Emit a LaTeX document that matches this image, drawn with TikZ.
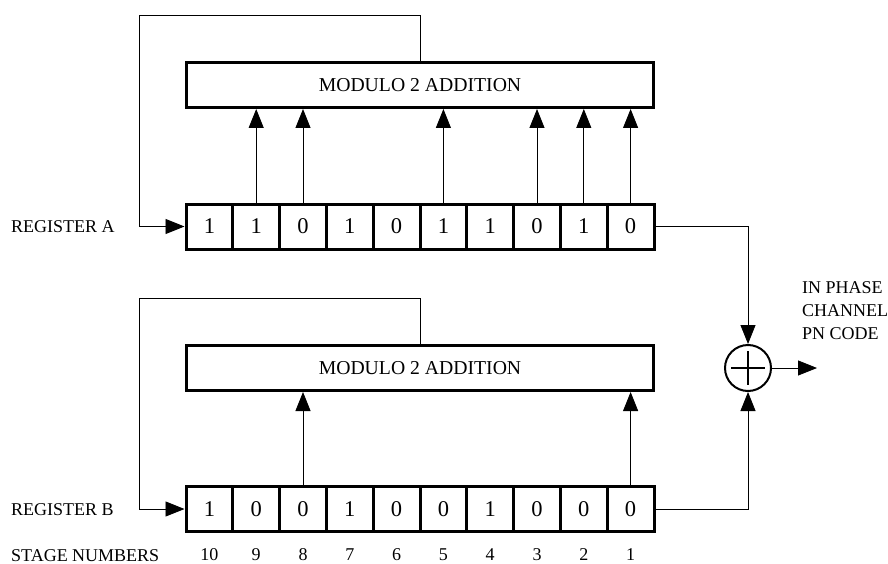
\documentclass[tikz,border=0pt]{standalone}
\usepackage{fontspec}
\setmainfont{Liberation Serif}
\usetikzlibrary{arrows.meta}
\tikzset{
    wire/.style={line width=0.9pt,-{Triangle[length=19pt,width=15pt]}},
    addbox/.style={draw,line width=3pt,minimum width=467pt,minimum height=45pt,inner sep=0pt,font=\fontsize{19.7}{22}\selectfont},
    cellbox/.style={draw,line width=3pt,minimum width=46.8pt,minimum height=45pt,inner sep=0pt,font=\fontsize{22.5}{24}\selectfont},
    lbl/.style={anchor=west,inner sep=0pt,font=\fontsize{18}{20}\selectfont},
    stagenum/.style={inner sep=0pt,font=\fontsize{18}{20}\selectfont}
}
\begin{document}
\begin{tikzpicture}[x=1pt,y=-1pt]
    \useasboundingbox (0,0) rectangle (888,564);
    % Adders
    \node[addbox] (adda) at (420,85) {MODULO 2 ADDITION};
    \node[addbox] (addb) at (420,368) {MODULO 2 ADDITION};
    % Register A
    \foreach \s/\b in {10/1,9/1,8/0,7/1,6/0,5/1,4/1,3/0,2/1,1/0} {
        \node[cellbox] (rega\s) at ({186+46.8*(10.5-\s)},226.5) {\b};
    }
    % Register B, stage numbers below it
    \foreach \s/\b in {10/1,9/0,8/0,7/1,6/0,5/0,4/1,3/0,2/0,1/0} {
        \node[cellbox] (regb\s) at ({186+46.8*(10.5-\s)},509) {\b};
        \node[stagenum] (num\s) at ({186+46.8*(10.5-\s)},555) {\s};
    }
    % Labels
    \node[lbl] (laba) at (11,227) {REGISTER A};
    \node[lbl] (labb) at (11,510) {REGISTER B};
    \node[lbl] (labs) at (11,556) {STAGE NUMBERS};
    \node[lbl,align=left,font=\fontsize{18}{23}\selectfont] (labout) at (802,311) {IN PHASE\\CHANNEL\\PN CODE};
    % Summing junction
    \node[draw,circle,line width=2pt,minimum size=46pt,inner sep=0pt] (sum) at (748,368) {};
    \coordinate (plusw) at (731,368);
    \coordinate (pluse) at (765,368);
    \coordinate (plusn) at (748,351);
    \coordinate (pluss) at (748,385);
    \draw[line width=2.2pt] (plusw) -- (pluse);
    \draw[line width=2.2pt] (plusn) -- (pluss);
    % Feedback loops
    \coordinate (fba) at (139,15);
    \coordinate (fbb) at (139,298);
    \draw[wire] (adda.north) |- (fba) |- (rega10.west);
    \draw[wire] (addb.north) |- (fbb) |- (regb10.west);
    % Taps
    \foreach \s in {9,8,5,3,2,1} {
        \draw[wire] (rega\s.north) -- (rega\s.north |- adda.south);
    }
    \foreach \s in {8,1} {
        \draw[wire] (regb\s.north) -- (regb\s.north |- addb.south);
    }
    % Outputs
    \coordinate (out) at (817,368);
    \draw[wire] (rega1.east) -| (sum.north);
    \draw[wire] (regb1.east) -| (sum.south);
    \draw[wire] (sum.east) -- (out);
\end{tikzpicture}
\end{document}
